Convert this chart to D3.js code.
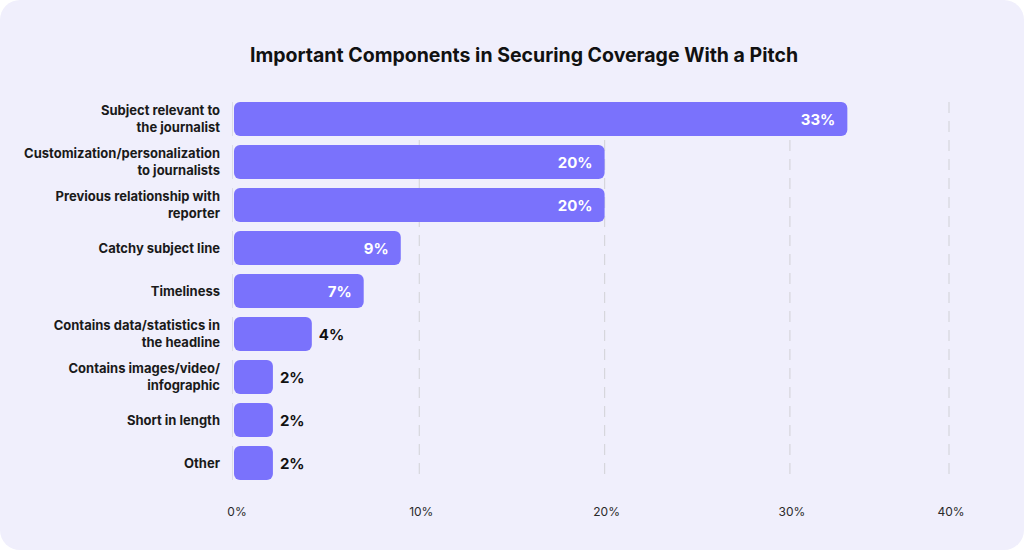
<!DOCTYPE html>
<html><head><meta charset="utf-8">
<script src="https://cdn.jsdelivr.net/npm/d3@7"></script>
<style>
html,body{margin:0;padding:0;background:#fff;}
svg{display:block;font-family:Inter,"DejaVu Sans",sans-serif;}
</style></head>
<body>
<svg id="c" width="1024" height="550"></svg>
<script>
const title = "Important Components in Securing Coverage With a Pitch";
const categories = [
  ["Subject relevant to","the journalist"],
  ["Customization/personalization","to journalists"],
  ["Previous relationship with","reporter"],
  ["Catchy subject line"],
  ["Timeliness"],
  ["Contains data/statistics in","the headline"],
  ["Contains images/video/","infographic"],
  ["Short in length"],
  ["Other"]
];
const values = [33.1, 20, 20, 9, 7, 4.2, 2.1, 2.1, 2.1];
const valueLabels = ["33%","20%","20%","9%","7%","4%","2%","2%","2%"];
const ticks = [0, 10, 20, 30, 40];
const tickLabels = ["0%","10%","20%","30%","40%"];

const svg = d3.select("#c");
svg.append("rect").attr("x",0).attr("y",0).attr("width",1024).attr("height",550)
  .attr("rx",20).attr("fill","#f0effc");

svg.append("text").attr("x",524).attr("y",62).attr("text-anchor","middle")
  .attr("font-size",19.5).attr("font-weight",700).attr("fill","#111")
  .text(title);

const x0 = 234, plotRight = 949;
const x = d3.scaleLinear().domain([0, 10]).range([x0, x0 + 185.3]);
const y = d3.scaleBand().domain(d3.range(categories.length)).range([97.5, 484.5]).paddingInner(0.21).paddingOuter(0.105);

const gTop = y(0), gBot = y(categories.length-1) + y.bandwidth();
// gridlines
svg.append("g").selectAll("line").data(ticks.slice(1)).join("line")
  .attr("x1", d => Math.min(x(d), plotRight)).attr("x2", d => Math.min(x(d), plotRight))
  .attr("y1", gTop).attr("y2", gBot)
  .attr("stroke","#d6d6dc").attr("stroke-width",1.2).attr("stroke-dasharray","11,8");

// tick labels
svg.append("g").selectAll("text").data(ticks).join("text")
  .attr("x", d => Math.min(x(d), plotRight) + (d===0?3:2)).attr("y", 516)
  .attr("text-anchor","middle").attr("font-size",12).attr("fill","#2a2a2a")
  .text((d,i) => tickLabels[i]);

// baseline segments
svg.append("g").selectAll("line").data(values).join("line")
  .attr("x1", x0-1.5).attr("x2", x0-1.5)
  .attr("y1",(d,i)=>y(i)).attr("y2",(d,i)=>y(i)+y.bandwidth())
  .attr("stroke","#dcdce6").attr("stroke-width",1);

// bars
svg.append("g").selectAll("rect").data(values).join("rect")
  .attr("x", x(0)).attr("y",(d,i)=>y(i))
  .attr("width", d => x(d)-x(0)).attr("height", y.bandwidth())
  .attr("rx",6).attr("fill","#7a72fc");

// value labels
svg.append("g").selectAll("text").data(values).join("text")
  .attr("x", d => d >= 7 ? x(d) - 12 : x(d) + 7)
  .attr("y", (d,i) => y(i) + y.bandwidth()/2 + 5.5)
  .attr("text-anchor", d => d >= 7 ? "end" : "start")
  .attr("font-size",15).attr("font-weight",700)
  .attr("fill", d => d >= 7 ? "#fff" : "#111")
  .text((d,i) => valueLabels[i]);

// category labels
const cl = svg.append("g").selectAll("text").data(categories).join("text")
  .attr("text-anchor","end").attr("font-size",13).attr("font-weight",700).attr("fill","#1a1a1a");
cl.each(function(lines, i){
  const cy = y(i) + y.bandwidth()/2;
  const n = lines.length, lh = 17;
  d3.select(this).selectAll("tspan").data(lines).join("tspan")
    .attr("x", 220)
    .attr("y", (l,j) => cy + (j - (n-1)/2)*lh + 4.5)
    .text(l => l);
});
</script>
</body></html>
